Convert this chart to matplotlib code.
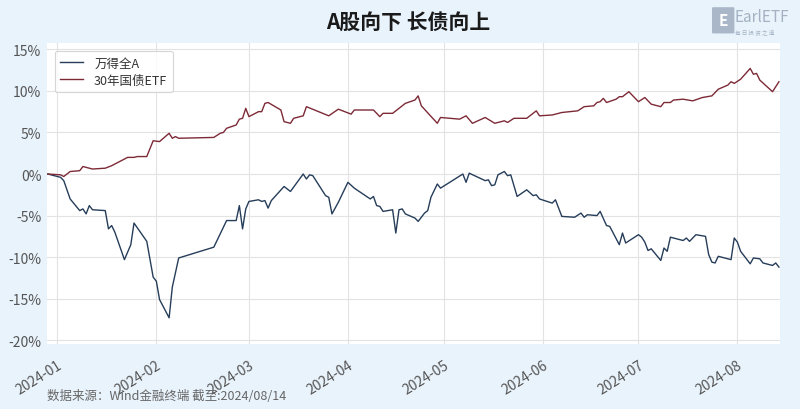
import matplotlib
matplotlib.use("Agg")
import matplotlib.pyplot as plt
import matplotlib.dates as mdates
from matplotlib.patches import FancyBboxPatch
from matplotlib.ticker import FuncFormatter
import pandas as pd

plt.rcParams['font.family'] = ['Noto Sans CJK SC', 'DejaVu Sans']

# ============================================
# Data (cumulative return, %)
# ============================================

stock_dates = [
    "2023-12-29", "2024-01-02", "2024-01-03", "2024-01-05", "2024-01-08", "2024-01-09",
    "2024-01-10", "2024-01-11", "2024-01-12", "2024-01-16", "2024-01-17", "2024-01-18",
    "2024-01-19", "2024-01-22", "2024-01-24", "2024-01-25", "2024-01-29", "2024-01-31",
    "2024-02-01", "2024-02-02", "2024-02-05", "2024-02-06", "2024-02-08", "2024-02-19",
    "2024-02-23", "2024-02-26", "2024-02-27", "2024-02-28", "2024-02-29", "2024-03-01",
    "2024-03-04", "2024-03-05", "2024-03-06", "2024-03-07", "2024-03-08", "2024-03-12",
    "2024-03-14", "2024-03-18", "2024-03-19", "2024-03-20", "2024-03-21", "2024-03-23",
    "2024-03-25", "2024-03-26", "2024-03-27", "2024-03-29", "2024-04-01", "2024-04-03",
    "2024-04-08", "2024-04-09", "2024-04-10", "2024-04-11", "2024-04-12", "2024-04-15",
    "2024-04-16", "2024-04-17", "2024-04-18", "2024-04-19", "2024-04-22", "2024-04-23",
    "2024-04-25", "2024-04-26", "2024-04-27", "2024-04-29", "2024-04-30", "2024-05-07",
    "2024-05-08", "2024-05-09", "2024-05-14", "2024-05-15", "2024-05-16", "2024-05-17",
    "2024-05-18", "2024-05-20", "2024-05-21", "2024-05-22", "2024-05-24", "2024-05-27",
    "2024-05-29", "2024-05-30", "2024-05-31", "2024-06-04", "2024-06-05", "2024-06-07",
    "2024-06-11", "2024-06-13", "2024-06-14", "2024-06-15", "2024-06-18", "2024-06-19",
    "2024-06-21", "2024-06-22", "2024-06-25", "2024-06-26", "2024-06-27", "2024-07-01",
    "2024-07-02", "2024-07-03", "2024-07-04", "2024-07-05", "2024-07-08", "2024-07-09",
    "2024-07-10", "2024-07-11", "2024-07-15", "2024-07-16", "2024-07-17", "2024-07-19",
    "2024-07-22", "2024-07-23", "2024-07-24", "2024-07-25", "2024-07-26", "2024-07-30",
    "2024-07-31", "2024-08-01", "2024-08-02", "2024-08-05", "2024-08-06", "2024-08-08",
    "2024-08-09", "2024-08-12", "2024-08-13", "2024-08-14",
]
stock_values = [
    0.0, -0.4, -0.8, -3.0, -4.4, -4.2,
    -4.8, -3.8, -4.3, -4.4, -6.6, -6.2,
    -7.0, -10.3, -8.5, -5.9, -8.1, -12.4,
    -12.9, -15.1, -17.3, -13.6, -10.1, -8.8,
    -5.6, -5.6, -3.8, -6.6, -4.2, -3.3,
    -3.1, -3.3, -3.2, -4.1, -3.2, -1.5,
    -2.1, 0.0, -0.6, -0.1, -0.2, -1.4,
    -2.6, -2.8, -4.8, -3.4, -1.0, -1.7,
    -3.0, -2.7, -3.8, -3.9, -4.5, -4.3,
    -7.1, -4.3, -4.2, -4.8, -5.3, -5.7,
    -4.7, -4.4, -2.8, -1.2, -1.7, 0.0,
    -1.0, 0.1, -0.8, -0.7, -1.4, -1.3,
    -0.1, 0.3, -0.2, -0.1, -2.7, -1.9,
    -2.6, -2.5, -3.0, -3.5, -3.1, -5.1,
    -5.2, -4.7, -5.2, -4.9, -5.0, -4.5,
    -6.2, -6.3, -8.5, -7.1, -8.3, -7.3,
    -7.6, -8.2, -9.2, -9.0, -10.4, -8.9,
    -9.3, -7.6, -8.0, -7.7, -8.1, -7.3,
    -7.5, -9.7, -10.6, -10.7, -9.9, -10.3,
    -7.7, -8.2, -9.3, -10.8, -10.1, -10.2,
    -10.7, -11.0, -10.7, -11.2,
]

bond_dates = [
    "2023-12-29", "2024-01-02", "2024-01-03", "2024-01-05", "2024-01-08", "2024-01-09",
    "2024-01-12", "2024-01-16", "2024-01-18", "2024-01-23", "2024-01-25", "2024-01-26",
    "2024-01-29", "2024-01-31", "2024-02-02", "2024-02-05", "2024-02-06", "2024-02-07",
    "2024-02-08", "2024-02-19", "2024-02-21", "2024-02-22", "2024-02-23", "2024-02-26",
    "2024-02-27", "2024-02-28", "2024-02-29", "2024-03-01", "2024-03-04", "2024-03-05",
    "2024-03-06", "2024-03-07", "2024-03-11", "2024-03-12", "2024-03-14", "2024-03-15",
    "2024-03-18", "2024-03-19", "2024-03-26", "2024-03-29", "2024-04-02", "2024-04-03",
    "2024-04-09", "2024-04-11", "2024-04-12", "2024-04-15", "2024-04-19", "2024-04-22",
    "2024-04-23", "2024-04-24", "2024-04-29", "2024-04-30", "2024-05-06", "2024-05-08",
    "2024-05-10", "2024-05-14", "2024-05-17", "2024-05-20", "2024-05-21", "2024-05-23",
    "2024-05-27", "2024-05-30", "2024-05-31", "2024-06-04", "2024-06-07", "2024-06-12",
    "2024-06-14", "2024-06-17", "2024-06-18", "2024-06-19", "2024-06-20", "2024-06-21",
    "2024-06-24", "2024-06-25", "2024-06-26", "2024-06-28", "2024-07-01", "2024-07-03",
    "2024-07-05", "2024-07-08", "2024-07-09", "2024-07-11", "2024-07-12", "2024-07-15",
    "2024-07-18", "2024-07-21", "2024-07-24", "2024-07-26", "2024-07-29", "2024-07-30",
    "2024-07-31", "2024-08-02", "2024-08-05", "2024-08-06", "2024-08-07", "2024-08-08",
    "2024-08-12", "2024-08-14",
]
bond_values = [
    0.0, -0.1, -0.3, 0.3, 0.4, 0.9,
    0.6, 0.7, 1.0, 2.0, 2.0, 2.1,
    2.1, 4.0, 3.9, 4.9, 4.3, 4.5,
    4.3, 4.4, 4.9, 5.0, 5.5, 5.9,
    6.6, 6.7, 7.9, 6.9, 7.5, 7.5,
    8.5, 8.6, 7.7, 6.3, 6.1, 6.7,
    7.0, 8.1, 7.0, 7.8, 7.2, 7.7,
    7.7, 6.9, 7.3, 7.3, 8.5, 8.9,
    9.4, 8.2, 6.1, 6.8, 6.6, 7.0,
    6.1, 6.8, 6.1, 6.4, 6.2, 6.7,
    6.7, 7.6, 7.0, 7.1, 7.4, 7.6,
    8.1, 8.2, 8.6, 8.7, 9.1, 8.6,
    9.0, 9.3, 9.3, 9.9, 8.7, 9.2,
    8.4, 8.1, 8.6, 8.6, 8.9, 9.0,
    8.8, 9.2, 9.4, 10.2, 10.7, 11.1,
    10.9, 11.4, 12.7, 12.0, 12.1, 11.3,
    9.9, 11.1,
]

series_names = ["万得全A", "30年国债ETF"]
series_colors = ["#263d5a", "#7d2a36"]
y_ticks = [15, 10, 5, 0, -5, -10, -15, -20]
month_ticks = ["2024-01-01", "2024-02-01", "2024-03-01", "2024-04-01",
               "2024-05-01", "2024-06-01", "2024-07-01", "2024-08-01"]

# ============================================
# Figure
# ============================================

bg = "#e9f3fc"
fig = plt.figure(figsize=(8, 4.1), dpi=100, facecolor=bg)
ax = fig.add_axes([0.05875, 0.1585, 0.91625, 0.734])
ax.set_facecolor("white")

ax.plot(pd.to_datetime(stock_dates), stock_values, color=series_colors[0],
        linewidth=1.0, label=series_names[0])
ax.plot(pd.to_datetime(bond_dates), bond_values, color=series_colors[1],
        linewidth=1.0, label=series_names[1])

ax.set_ylim(-20.45, 15.75)
ax.set_xlim(pd.Timestamp("2023-12-28 18:00"), pd.Timestamp("2024-08-14 08:00"))
ax.set_yticks(y_ticks)
ax.yaxis.set_major_formatter(FuncFormatter(lambda v, p: f"{v:.0f}%"))
ax.set_xticks(pd.to_datetime(month_ticks))
ax.xaxis.set_major_formatter(mdates.DateFormatter("%Y-%m"))

for lbl in ax.get_xticklabels():
    lbl.set_rotation(32)
    lbl.set_ha("right")
    lbl.set_rotation_mode("anchor")

ax.tick_params(axis="both", colors="#555555", labelsize=10, length=0, pad=4)
ax.tick_params(axis="x", pad=10)
ax.grid(True, color="#e3e3e3", linewidth=0.8)
ax.set_axisbelow(True)
for s in ax.spines.values():
    s.set_visible(False)

leg = ax.legend(loc="upper left", bbox_to_anchor=(0.002, 0.995), fontsize=9,
                frameon=True, handlelength=1.8, borderpad=0.45, labelspacing=0.35,
                handletextpad=0.9)
leg.get_frame().set_edgecolor("#cccccc")
leg.get_frame().set_linewidth(0.8)
for t in leg.get_texts():
    t.set_color("#333333")

fig.text(0.51, 0.945, "A股向下 长债向上", ha="center", va="center",
         fontsize=15, fontweight="bold", color="#1a1a1a")

# logo
logo = FancyBboxPatch((0.892, 0.918), 0.024, 0.06, boxstyle="round,pad=0.002",
                      transform=fig.transFigure, facecolor="#a9b7c8",
                      edgecolor="none")
fig.patches.append(logo)
fig.text(0.904, 0.948, "E", ha="center", va="center", fontsize=11,
         color="white", fontweight="bold")
fig.text(0.918, 0.957, "EarlETF", ha="left", va="center", fontsize=11,
         color="#a3b1c2")
fig.text(0.919, 0.921, "每 日 投 资 之 道", ha="left", va="center", fontsize=4,
         color="#a3b1c2")

fig.text(0.059, 0.032, "数据来源：Wind金融终端 截至:2024/08/14", ha="left",
         va="center", fontsize=9, color="#666666")

fig.savefig("out.png", dpi=100, facecolor=bg)
